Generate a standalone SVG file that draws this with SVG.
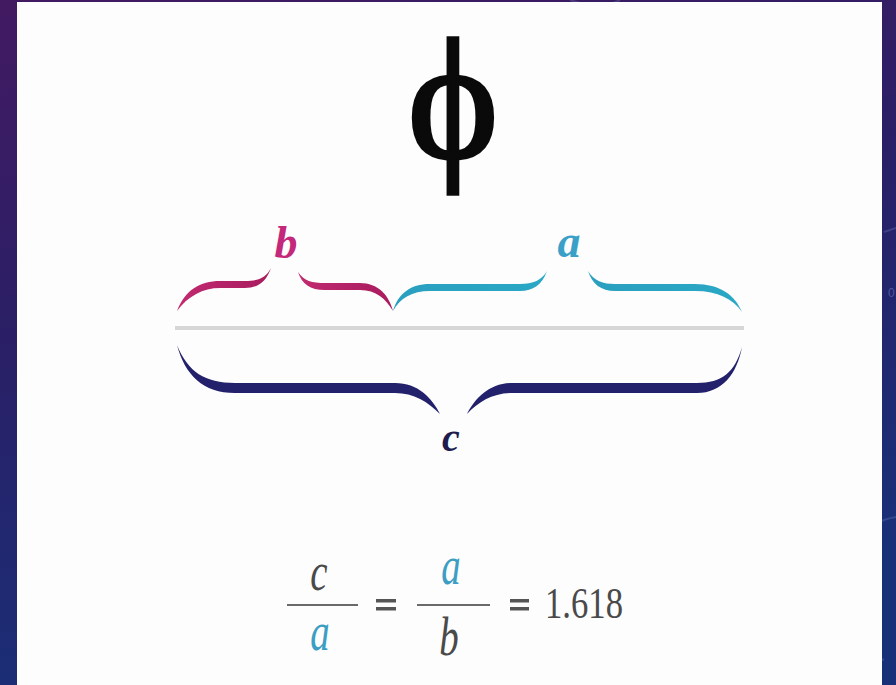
<svg xmlns="http://www.w3.org/2000/svg" width="896" height="685" viewBox="0 0 896 685">
<defs>
<linearGradient id="bg" x1="0" y1="0" x2="0.3" y2="1">
<stop offset="0" stop-color="#421a62"/>
<stop offset="0.45" stop-color="#2a1f66"/>
<stop offset="1" stop-color="#183078"/>
</linearGradient>
<linearGradient id="gm" x1="0" y1="0" x2="1" y2="0">
<stop offset="0" stop-color="#c12a70"/>
<stop offset="1" stop-color="#a81c5e"/>
</linearGradient>
<linearGradient id="gc" x1="0" y1="0" x2="1" y2="0">
<stop offset="0" stop-color="#2a9fbf"/>
<stop offset="1" stop-color="#2aa8c6"/>
</linearGradient>
</defs>
<style>
.it{font-family:"Liberation Serif","Times New Roman",serif;font-style:italic}
.bl{font-weight:bold}
.eq{font-family:"Liberation Serif","Times New Roman",serif;fill:#4a4a4a}
.bar{stroke:#6a6a6a;stroke-width:2}
</style>
<rect x="0" y="0" width="896" height="685" fill="url(#bg)"/>
<g id="bgdeco" fill="none" stroke="#8a9ad0" stroke-opacity="0.25" stroke-width="2">
<path d="M930,520 A70,70 0 0 0 884,660"/>
<path d="M884,232 L896,228"/>
<path d="M570,0 Q600,10 620,0"/>
</g>
<text x="888" y="297" font-family="Liberation Sans,sans-serif" font-size="12" fill="#8a9ad0" fill-opacity="0.45">0</text>
<rect id="panel" x="17" y="2" width="865" height="683" fill="#fdfdfd"/>
<g id="phi">
<text x="453" y="157" style="font-family:'Liberation Serif','DejaVu Serif',serif" font-size="172" text-anchor="middle" fill="#0a0a0a" stroke="#0a0a0a" stroke-width="3.5">ϕ</text>
</g>
<g id="connectors">
<line id="segment" x1="175" y1="328" x2="744" y2="328" stroke="#d6d6d6" stroke-width="4"/>
<g id="brace-b" fill="url(#gm)">
<path d="M177,311 C185,290 200,281 220,281 L245,281 C258,281 266,278 271,268 C266,282 258,288 245,288 L220,288 C203,288 188,296 177,311 Z"/>
<path d="M298,272 C304,281 312,283 325,283 L360,283 C378,283 389,295 393,311 C386,299 376,290 360,290 L325,290 C310,290 302,284 298,272 Z"/>
</g>
<g id="brace-a" fill="url(#gc)">
<path d="M393,311 C398,294 410,284 430,284 L520,284 C533,284 542,280 547,271 C542,285 533,291 520,291 L430,291 C412,291 400,298 393,311 Z"/>
<path d="M588,271 C594,281 603,284 615,284 L695,284 C720,284 735,295 742,312 C733,299 718,291 695,291 L615,291 C601,291 592,284 588,271 Z"/>
</g>
<g id="brace-c" fill="#23206c">
<path d="M177,345 C188,372 205,383 235,383 L395,383 C418,383 432,398 440,414 C428,402 414,393 395,393 L235,393 C203,393 185,375 177,345 Z"/>
<path d="M467,414 C475,398 490,383 512,383 L697,383 C722,383 735,372 742,347 C737,374 722,393 697,393 L512,393 C493,393 478,402 467,414 Z"/>
</g>
</g>
<g id="label-b"><text class="it bl" x="286" y="258" font-size="46" text-anchor="middle" fill="#c4287a">b</text></g>
<g id="label-a"><text class="it bl" x="569" y="257" font-size="46" text-anchor="middle" fill="#3aa0c8">a</text></g>
<g id="label-c"><text class="it bl" x="451" y="451" font-size="40" text-anchor="middle" fill="#1e1c4e">c</text></g>
<g id="equation">
<text class="eq" x="319" y="590" font-size="54" font-style="italic" text-anchor="middle" transform="translate(319 0) scale(0.72 1) translate(-319 0)">c</text>
<line class="bar" x1="287" y1="605" x2="358" y2="605"/>
<text class="eq" x="320" y="650" font-size="54" font-style="italic" text-anchor="middle" style="fill:#3d9ec4" transform="translate(320 0) scale(0.72 1) translate(-320 0)">a</text>
<g fill="#555555">
<rect x="376" y="599" width="20" height="3.5"/>
<rect x="376" y="607" width="20" height="3.5"/>
<rect x="510" y="599" width="19" height="3.5"/>
<rect x="510" y="607" width="19" height="3.5"/>
</g>
<text class="eq" x="451" y="584" font-size="54" font-style="italic" text-anchor="middle" style="fill:#3d9ec4" transform="translate(451 0) scale(0.72 1) translate(-451 0)">a</text>
<line class="bar" x1="417" y1="605" x2="490" y2="605"/>
<text class="eq" x="449" y="655" font-size="54" font-style="italic" text-anchor="middle" transform="translate(449 0) scale(0.72 1) translate(-449 0)">b</text>
<text class="eq" x="545" y="618" font-size="45" textLength="78" lengthAdjust="spacingAndGlyphs">1.618</text>
</g>
</svg>
